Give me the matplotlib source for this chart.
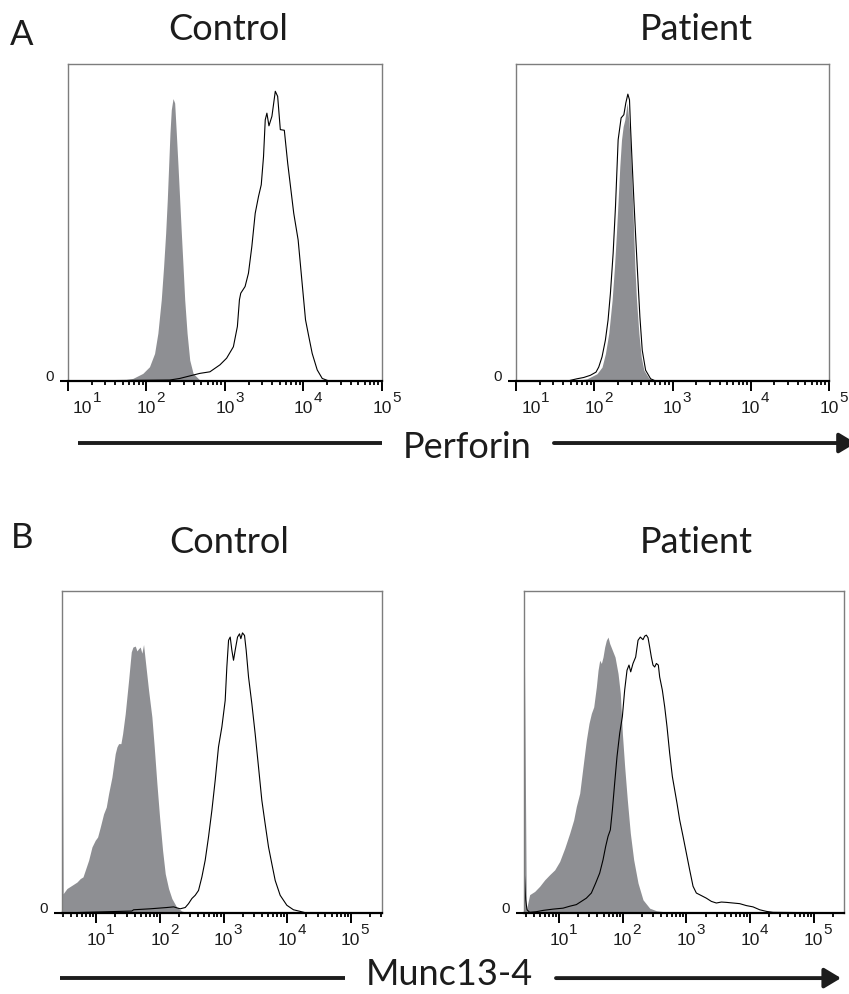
import numpy as np
import matplotlib
matplotlib.use("Agg")
import matplotlib.pyplot as plt
from matplotlib.ticker import FixedLocator, LogLocator, NullFormatter
from matplotlib.patches import FancyArrowPatch
from matplotlib.lines import Line2D

# x values are log10 fluorescence, y values are % of the plot height
# Perforin, control donor
ctrl_perf_iso_x = [1.697, 1.825, 1.953, 2.038, 2.103, 2.145, 2.188, 2.218, 2.244, 2.265,
                   2.282, 2.299, 2.316, 2.338, 2.359, 2.380, 2.402, 2.423, 2.444, 2.466,
                   2.487, 2.517, 2.551, 2.594, 2.679]
ctrl_perf_iso_y = [0.3, 0.8, 2.4, 4.5, 8.7, 15.1, 25.6, 36.1, 46.6, 57.2,
                   67.7, 78.2, 85.6, 89.1, 87.7, 78.2, 67.7, 57.2, 46.6, 36.1,
                   25.6, 15.1, 6.6, 2.4, 0.3]
ctrl_perf_x = [1.0, 2.295, 2.423, 2.551, 2.679, 2.808, 2.936, 3.021, 3.107, 3.158,
               3.184, 3.201, 3.256, 3.299, 3.342, 3.385, 3.427, 3.462, 3.491, 3.513,
               3.534, 3.560, 3.598, 3.641, 3.671, 3.705, 3.756, 3.799, 3.876, 3.932,
               3.983, 4.026, 4.068, 4.111, 4.175, 4.239, 4.325, 5.0]
ctrl_perf_y = [0, 0.3, 0.8, 1.6, 2.4, 2.9, 5.1, 7.2, 10.8, 17.2,
               25.6, 27.7, 29.8, 34.0, 42.4, 52.9, 58.2, 61.9, 70.8, 82.4,
               84.5, 80.5, 83.5, 91.4, 89.8, 79.3, 79.1, 68.7, 52.9, 44.5,
               30.8, 19.3, 14.0, 8.7, 3.5, 0.8, 0, 0]

# Perforin, patient
pat_perf_iso_x = [1.779, 1.907, 2.035, 2.099, 2.142, 2.185, 2.228, 2.258, 2.283, 2.305,
                  2.326, 2.348, 2.369, 2.390, 2.420, 2.455, 2.476, 2.497, 2.519, 2.540,
                  2.570, 2.600, 2.634, 2.698, 2.763]
pat_perf_iso_y = [0.2, 0.7, 2.3, 4.4, 8.6, 15.0, 25.5, 36.0, 46.6, 57.1,
                  67.6, 76.1, 80.3, 82.4, 87.7, 78.2, 65.5, 51.8, 36.0, 25.5,
                  15.0, 7.6, 3.4, 0.9, 0.2]
pat_perf_x = [1.693, 1.779, 1.864, 1.950, 2.022, 2.057, 2.099, 2.142, 2.176, 2.206,
              2.241, 2.271, 2.305, 2.343, 2.378, 2.403, 2.429, 2.450, 2.463, 2.484,
              2.506, 2.527, 2.549, 2.583, 2.613, 2.656, 2.720, 2.784]
pat_perf_y = [0.2, 0.7, 1.1, 1.8, 2.8, 4.4, 7.6, 12.9, 19.2, 27.6,
              40.3, 55.0, 76.1, 83.0, 84.0, 87.7, 90.5, 88.7, 80.3, 68.7,
              57.1, 46.6, 36.0, 20.2, 9.7, 3.4, 0.7, 0]

# Munc13-4, control donor
ctrl_munc_iso_x = [0.461, 0.48, 0.539, 0.618, 0.696, 0.749, 0.791, 0.827, 0.880, 0.932,
                   0.984, 1.021, 1.063, 1.115, 1.157, 1.194, 1.246, 1.298, 1.325, 1.351,
                   1.387, 1.414, 1.455, 1.508, 1.550, 1.576, 1.613, 1.639, 1.665, 1.691,
                   1.717, 1.743, 1.770, 1.822, 1.874, 1.911, 1.953, 1.995, 2.042, 2.084,
                   2.136, 2.188, 2.267, 2.346, 2.424, 2.634]
ctrl_munc_iso_y = [97, 6.0, 7.6, 8.6, 9.6, 10.7, 11.2, 13.3, 16.4, 20.5,
                   22.6, 23.6, 26.7, 30.8, 32.9, 37.1, 42.2, 49.5, 51.6, 52.6,
                   52.6, 55.7, 61.9, 72.3, 81.1, 82.6, 82.9, 81.4, 82.1, 82.6,
                   80.7, 83.4, 78.5, 69.2, 60.9, 51.6, 40.2, 29.8, 19.5, 12.2,
                   7.6, 4.5, 1.7, 0.6, 0.2, 0.1]
ctrl_munc_x = [0.461, 1.560, 1.586, 1.848, 2.110, 2.215, 2.319, 2.398, 2.450, 2.503,
               2.555, 2.607, 2.660, 2.712, 2.764, 2.817, 2.869, 2.921, 2.974, 3.026,
               3.052, 3.079, 3.105, 3.131, 3.157, 3.183, 3.220, 3.251, 3.272, 3.298,
               3.330, 3.356, 3.393, 3.445, 3.497, 3.550, 3.602, 3.654, 3.707, 3.759,
               3.812, 3.890, 3.995, 4.099, 4.204, 4.283, 5.49]
ctrl_munc_y = [0, 0.6, 1.0, 1.3, 1.7, 1.9, 1.3, 1.7, 2.9, 4.5,
               5.5, 7.0, 11.2, 16.4, 23.6, 31.9, 41.2, 51.6, 57.8, 66.0,
               76.4, 84.7, 85.7, 81.6, 78.5, 81.6, 85.7, 86.7, 85.2, 87.0,
               86.2, 81.6, 73.3, 65.0, 55.7, 45.3, 35.0, 27.7, 20.5, 15.3,
               10.1, 5.5, 2.4, 1.0, 0.5, 0.1, 0]

# Munc13-4, patient
pat_munc_iso_x = [0.450, 0.487, 0.539, 0.618, 0.696, 0.775, 0.853, 0.932, 1.010, 1.089,
                  1.168, 1.230, 1.272, 1.325, 1.377, 1.429, 1.471, 1.508, 1.545, 1.586,
                  1.613, 1.639, 1.665, 1.691, 1.717, 1.743, 1.770, 1.796, 1.838, 1.880,
                  1.927, 1.963, 1.995, 2.031, 2.073, 2.120, 2.173, 2.241, 2.319, 2.424,
                  2.529, 2.686]
pat_munc_iso_y = [97, 1.0, 5.7, 6.7, 8.3, 10.3, 11.9, 13.4, 16.0, 20.1,
                  24.8, 28.9, 33.1, 37.2, 45.5, 53.7, 58.9, 62.0, 64.0, 70.2,
                  75.4, 78.5, 77.5, 79.5, 82.6, 84.7, 85.7, 83.7, 81.6, 79.5,
                  74.4, 68.2, 55.8, 45.5, 35.1, 24.8, 16.5, 9.3, 4.1, 1.5,
                  0.7, 0.3]
pat_munc_x = [0.450, 0.476, 0.497, 0.539, 0.644, 0.749, 0.906, 1.063, 1.168, 1.272,
              1.351, 1.429, 1.508, 1.576, 1.639, 1.691, 1.733, 1.770, 1.806, 1.838,
              1.874, 1.911, 1.953, 1.995, 2.031, 2.068, 2.099, 2.126, 2.162, 2.204,
              2.241, 2.277, 2.319, 2.346, 2.372, 2.398, 2.424, 2.450, 2.476, 2.503,
              2.529, 2.560, 2.581, 2.623, 2.660, 2.696, 2.738, 2.780, 2.817, 2.853,
              2.895, 2.948, 3.000, 3.052, 3.105, 3.157, 3.236, 3.314, 3.393, 3.471,
              3.550, 3.628, 3.733, 3.838, 3.942, 4.047, 4.152, 4.257, 4.361, 5.476]
pat_munc_y = [14.5, 4.1, 1.0, 0.2, 0.4, 0.8, 1.2, 1.5, 2.1, 2.6,
              3.6, 4.6, 6.2, 9.3, 12.4, 16.5, 20.7, 23.8, 25.8, 32.0,
              40.3, 48.6, 55.8, 61.0, 69.2, 75.4, 77.0, 74.9, 77.5, 79.5,
              84.7, 85.7, 84.9, 86.0, 86.3, 85.5, 82.6, 79.5, 77.0, 76.4,
              77.5, 77.0, 73.3, 69.2, 64.0, 57.9, 49.6, 42.4, 38.2, 34.1,
              28.9, 23.8, 18.6, 13.4, 8.3, 6.2, 5.4, 4.6, 3.6, 3.1,
              3.4, 3.3, 3.1, 2.9, 2.3, 1.9, 1.0, 0.5, 0.2, 0]

decades = [1, 2, 3, 4, 5]
FILL = '#8e8f93'
INK = '#1c1c1c'
TITLE_FONT = 'Lato'
TICK_FONT = ['Liberation Sans', 'DejaVu Sans']

fig = plt.figure(figsize=(8.49, 9.94), dpi=100)


def panel(rect, xlo, xhi, iso_x, iso_y, x, y, first_shift, lab_dy, exp_dy):
    ax = fig.add_axes(rect)
    ax.fill_between(10 ** np.array(iso_x), 0, iso_y, color=FILL, lw=0, zorder=1)
    ax.plot(10 ** np.array(x), y, color='black', lw=0.8, zorder=2)
    ax.set_xscale('log')
    ax.set_xlim(10 ** xlo, 10 ** xhi)
    ax.set_ylim(0, 100)

    for side in ['top', 'right', 'left']:
        ax.spines[side].set_color('#7d7d7d')
        ax.spines[side].set_linewidth(1.0)
    ax.spines['bottom'].set_color('black')
    ax.spines['bottom'].set_linewidth(1.6)

    ax.xaxis.set_major_locator(FixedLocator([10.0 ** d for d in decades]))
    ax.xaxis.set_minor_locator(LogLocator(base=10, subs=np.arange(2, 10), numticks=30))
    ax.xaxis.set_major_formatter(NullFormatter())
    ax.xaxis.set_minor_formatter(NullFormatter())
    ax.tick_params(axis='x', which='major', direction='out', length=7.2, width=1.4, color='black')
    ax.tick_params(axis='x', which='minor', direction='out', length=3.2, width=1.3, color='black')
    ax.set_yticks([0])
    ax.set_yticklabels([])
    ax.tick_params(axis='y', direction='out', length=5.8, width=1.5, color='black')

    # "0" on the y axis
    ax.annotate('0', xy=(0, 0), xycoords='axes fraction', xytext=(-18, 4),
                textcoords='offset pixels', ha='center', va='center',
                fontsize=11, family=TICK_FONT, color=INK)

    # decade labels, 10 with a raised exponent
    for i, d in enumerate(decades):
        dx = first_shift if i == 0 else 0
        ax.annotate('10', xy=(10.0 ** d, 0), xycoords=('data', 'axes fraction'),
                    xytext=(dx, -lab_dy), textcoords='offset pixels',
                    ha='center', va='center', fontsize=12.5, family=TICK_FONT, color=INK,
                    annotation_clip=False)
        ax.annotate(str(d), xy=(10.0 ** d, 0), xycoords=('data', 'axes fraction'),
                    xytext=(dx + 10, -exp_dy), textcoords='offset pixels',
                    ha='left', va='center', fontsize=11, family=TICK_FONT, color=INK,
                    annotation_clip=False)
    return ax


panel([0.0801, 0.6167, 0.3698, 0.3189], 1.0, 5.0,
      ctrl_perf_iso_x, ctrl_perf_iso_y, ctrl_perf_x, ctrl_perf_y, 14.5, 27.5, 17)
panel([0.6078, 0.6167, 0.3687, 0.3189], 1.0, 5.0,
      pat_perf_iso_x, pat_perf_iso_y, pat_perf_x, pat_perf_y, 15, 27.5, 17)
panel([0.0730, 0.0815, 0.3769, 0.3239], 0.461, 5.49,
      ctrl_munc_iso_x, ctrl_munc_iso_y, ctrl_munc_x, ctrl_munc_y, 0, 28, 17.5)
panel([0.6172, 0.0815, 0.3769, 0.3239], 0.450, 5.476,
      pat_munc_iso_x, pat_munc_iso_y, pat_munc_x, pat_munc_y, 0, 28, 17.5)

# panel letters and titles
fig.text(0.026, 0.9547, 'A', ha='center', va='baseline', fontsize=25, family=TITLE_FONT, color=INK)
fig.text(0.2686, 0.9598, 'Control', ha='center', va='baseline', fontsize=26, family=TITLE_FONT, color=INK)
fig.text(0.8198, 0.9598, 'Patient', ha='center', va='baseline', fontsize=26, family=TITLE_FONT, color=INK)
fig.text(0.0265, 0.4487, 'B', ha='center', va='baseline', fontsize=25, family=TITLE_FONT, color=INK)
fig.text(0.2697, 0.4437, 'Control', ha='center', va='baseline', fontsize=26, family=TITLE_FONT, color=INK)
fig.text(0.8198, 0.4437, 'Patient', ha='center', va='baseline', fontsize=26, family=TITLE_FONT, color=INK)

# axis arrows with marker names
fig.text(0.550, 0.5392, 'Perforin', ha='center', va='baseline', fontsize=26, family=TITLE_FONT, color=INK)
fig.add_artist(Line2D([0.0919, 0.4499], [0.5543, 0.5543], transform=fig.transFigure,
                      color=INK, lw=2.8, solid_capstyle='butt'))
fig.add_artist(FancyArrowPatch((0.6525, 0.5543), (1.008, 0.5543), transform=fig.transFigure,
                               arrowstyle='-|>,head_length=1.0,head_width=0.6',
                               mutation_scale=10, color=INK, lw=2.8, shrinkA=0, shrinkB=0))

fig.text(0.529, 0.009, 'Munc13-4', ha='center', va='baseline', fontsize=26, family=TITLE_FONT, color=INK)
fig.add_artist(Line2D([0.0707, 0.4064], [0.0160, 0.0160], transform=fig.transFigure,
                      color=INK, lw=2.8, solid_capstyle='butt'))
fig.add_artist(FancyArrowPatch((0.6549, 0.0160), (0.9906, 0.0160), transform=fig.transFigure,
                               arrowstyle='-|>,head_length=1.0,head_width=0.6',
                               mutation_scale=10, color=INK, lw=2.8, shrinkA=0, shrinkB=0))

fig.savefig('out.png', dpi=100)
